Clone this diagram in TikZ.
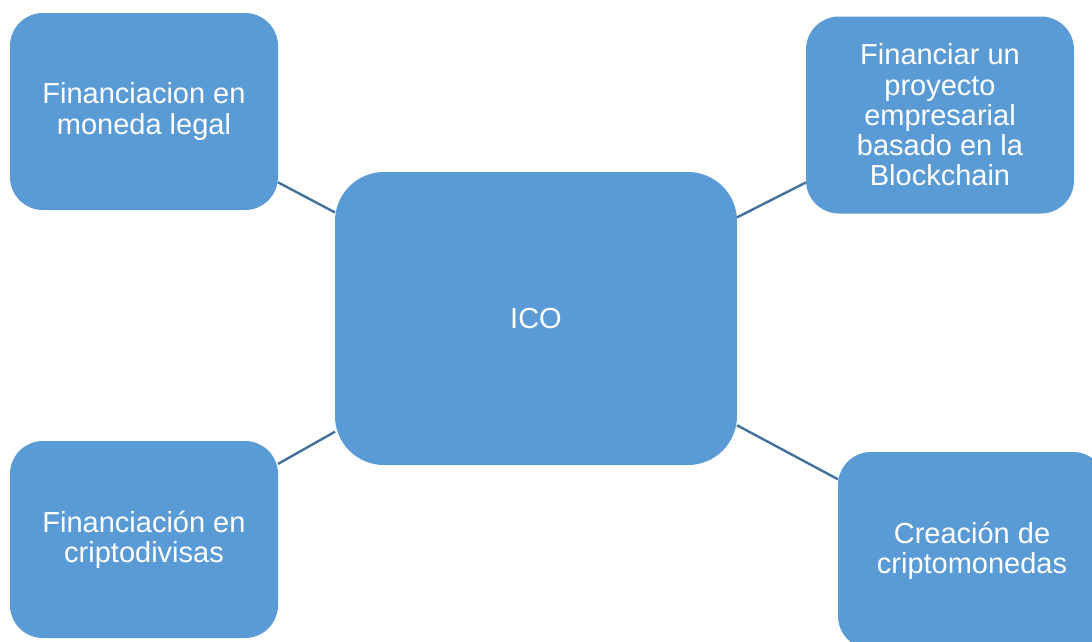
\documentclass[tikz,border=0pt]{standalone}
\usepackage{fontspec}
\setmainfont{Liberation Sans}
\definecolor{boxblue}{HTML}{5B9BD5}
\definecolor{linkblue}{HTML}{41719C}
\begin{document}
\begin{tikzpicture}[x=1pt,y=-1pt,
  box/.style={rectangle, fill=boxblue, text=white, inner sep=0pt, outer sep=0pt,
    align=center, font=\fontsize{29}{30.2}\selectfont},
  small/.style={box, minimum width=268pt, minimum height=197pt, rounded corners=33pt},
  link/.style={draw=linkblue, line width=2.4pt}]
\useasboundingbox (0,0) rectangle (1092,641);
\clip (0,0) rectangle (1092,641);
\node[box, minimum width=402pt, minimum height=293pt, rounded corners=49pt] (ico) at (536,318.5) {ICO};
\node[small] (tl) at (144,111.5) {Financiacion en\\moneda legal};
\node[small] (tr) at (940,115) {Financiar un\\proyecto\\empresarial\\basado en la\\Blockchain};
\node[small] (bl) at (144,539.5) {Financiación en\\criptodivisas};
\node[small] (br) at (972,550.5) {Creación de\\criptomonedas};
\draw[link] (tl) -- (ico);
\draw[link] (tr) -- (ico);
\draw[link] (bl) -- (ico);
\draw[link] (br) -- (ico);
\end{tikzpicture}
\end{document}
